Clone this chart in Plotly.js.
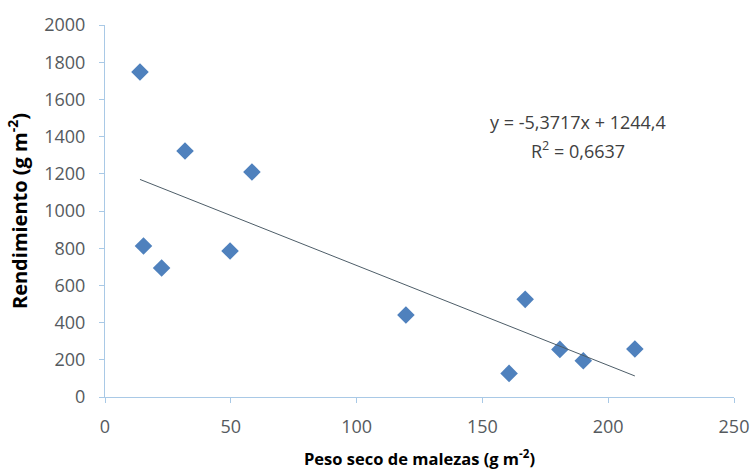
<!DOCTYPE html>
<html><head><meta charset="utf-8">
<script src="https://cdn.plot.ly/plotly-3.0.1.min.js"></script>
<style>html,body{margin:0;padding:0;background:#fff}</style>
</head><body>
<div id="chart" style="width:753px;height:474px"></div>
<script>
const pesoSeco = [13.9, 15.3, 22.5, 31.8, 49.7, 58.4, 119.6, 160.6, 167, 180.8, 190.1, 210.6];
const rendimiento = [1747, 812, 694, 1323, 785, 1210, 441, 127, 525, 256, 195, 258];
const slope = -5.3717;
const intercept = 1244.4;
const trendX = [13.9, 210.6];
const trendY = trendX.map(x => slope * x + intercept);
const xTicks = [0, 50, 100, 150, 200, 250];
const yTicks = [0, 200, 400, 600, 800, 1000, 1200, 1400, 1600, 1800, 2000];

const fam = 'Open Sans, Liberation Sans, sans-serif';
const tickFont = {family: fam, size: 18, color: '#555a5e'};
const axisCol = '#a9c9e6';

Plotly.newPlot('chart', [
  {x: pesoSeco, y: rendimiento, type: 'scatter', mode: 'markers',
   marker: {symbol: 'diamond', size: 13.5, color: '#4f81bd', line: {width: 0}}, hoverinfo: 'x+y'},
  {x: trendX, y: trendY, type: 'scatter', mode: 'lines',
   line: {color: '#4d5d68', width: 1}}
], {
  width: 753, height: 474,
  margin: {l: 105, r: 19, t: 25, b: 77},
  paper_bgcolor: '#fff', plot_bgcolor: '#fff',
  showlegend: false,
  xaxis: {range: [0, 250], tickvals: xTicks, ticktext: xTicks.map(String),
    showgrid: false, zeroline: false, showline: true, linecolor: axisCol, linewidth: 1,
    ticks: 'outside', ticklen: 5, tickcolor: axisCol, tickfont: tickFont, ticklabelstandoff: 8,
    title: {text: '<b>Peso seco de malezas (g m<sup>-2</sup>)</b>', font: {family: fam, size: 16.5, color: '#000'}, standoff: 16}},
  yaxis: {range: [0, 2000], tickvals: yTicks, ticktext: yTicks.map(String),
    showgrid: false, zeroline: false, showline: true, linecolor: axisCol, linewidth: 1,
    ticks: 'outside', ticklen: 5, tickcolor: axisCol, tickfont: tickFont, ticklabelstandoff: 10,
    title: {text: '<b>Rendimiento (g m<sup>-2</sup>)</b>', font: {family: fam, size: 20, color: '#000'}, standoff: 11}},
  annotations: [
    {xref: 'paper', yref: 'paper', x: (578-105)/629, y: (397-122)/372, xanchor: 'center', yanchor: 'middle',
     showarrow: false, text: 'y = -5,3717x + 1244,4', font: {family: fam, size: 18, color: '#404040'}},
    {xref: 'paper', yref: 'paper', x: (578-105)/629, y: (397-150)/372, xanchor: 'center', yanchor: 'middle',
     showarrow: false, text: 'R<sup>2</sup> = 0,6637', font: {family: fam, size: 18, color: '#404040'}}
  ]
}, {displayModeBar: false});
</script>
</body></html>
